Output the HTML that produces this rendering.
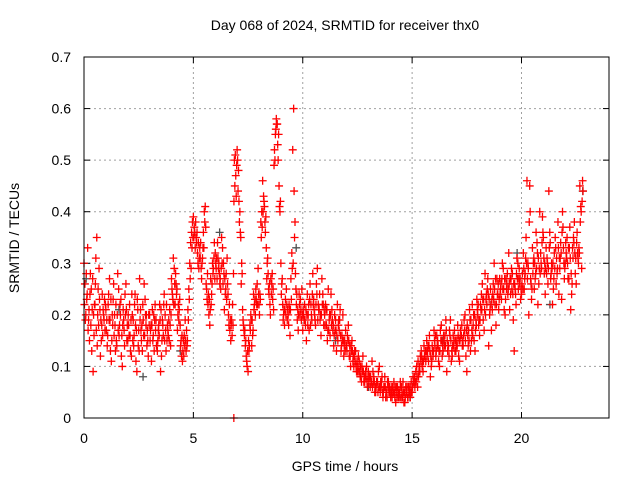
<!DOCTYPE html>
<html><head><meta charset="utf-8"><style>
body{margin:0;background:#fff}
svg{display:block;font-family:"Liberation Sans",sans-serif}
</style></head><body>
<svg id="chart" width="640" height="480">
<text x="345" y="30" text-anchor="middle" font-size="14">Day 068 of 2024, SRMTID for receiver thx0</text>
<g id="grid"></g>
<g id="ticks"></g>
<g id="pts"></g>
<rect x="84" y="57" width="525" height="361" fill="none" stroke="#000" stroke-width="1"/>
<text x="345" y="471" text-anchor="middle" font-size="14">GPS time / hours</text>
<text transform="translate(19,238) rotate(-90)" text-anchor="middle" font-size="14">SRMTID / TECUs</text>
</svg>
<script>
const xTicks=[0,5,10,15,20];
const yTicks=[0,0.1,0.2,0.3,0.4,0.5,0.6,0.7];
const yTickLabels=["0","0.1","0.2","0.3","0.4","0.5","0.6","0.7"];
const hours=[0,1,2,3,4,5,6,7,8,9,10,11,12,13,14,15,16,17,18,19,20,21,22];
const seriesA=[
[0.30,0.20,0.33,0.15,0.25,0.09,0.22,0.35,0.18,0.12,0.24,0.19],
[0.21,0.16,0.27,0.11,0.23,0.18,0.14,0.25,0.20,0.10,0.17,0.26],
[0.15,0.22,0.12,0.19,0.24,0.09,0.17,0.21,0.13,0.26,0.18,0.15],
[0.20,0.11,0.16,0.22,0.14,0.18,0.09,0.19,0.24,0.13,0.17,0.21],
[0.27,0.31,0.22,0.25,0.19,0.14,0.11,0.16,0.13,0.21,0.30,0.36],
[0.39,0.33,0.36,0.29,0.34,0.31,0.40,0.26,0.22,0.18,0.24,0.29],
[0.32,0.27,0.30,0.25,0.33,0.21,0.28,0.24,0.17,0.19,0.28,0.51],
[0.52,0.42,0.35,0.21,0.16,0.12,0.09,0.18,0.14,0.24,0.20,0.26],
[0.22,0.38,0.46,0.41,0.33,0.28,0.22,0.26,0.21,0.55,0.57,0.45],
[0.30,0.22,0.18,0.25,0.20,0.16,0.32,0.60,0.28,0.19,0.24,0.21],
[0.17,0.22,0.15,0.20,0.26,0.19,0.23,0.18,0.29,0.21,0.16,0.24],
[0.20,0.18,0.25,0.16,0.21,0.14,0.19,0.22,0.17,0.13,0.20,0.15],
[0.14,0.18,0.12,0.15,0.10,0.13,0.09,0.11,0.08,0.12,0.07,0.10],
[0.09,0.06,0.11,0.08,0.05,0.07,0.10,0.06,0.04,0.08,0.05,0.07],
[0.05,0.04,0.07,0.03,0.06,0.05,0.04,0.07,0.03,0.05,0.06,0.04],
[0.05,0.07,0.09,0.06,0.10,0.13,0.09,0.12,0.15,0.11,0.08,0.14],
[0.17,0.12,0.15,0.10,0.18,0.13,0.16,0.09,0.14,0.19,0.12,0.15],
[0.13,0.18,0.11,0.16,0.14,0.20,0.09,0.17,0.13,0.22,0.15,0.19],
[0.20,0.16,0.24,0.19,0.28,0.22,0.14,0.25,0.21,0.30,0.18,0.24],
[0.27,0.23,0.29,0.20,0.26,0.32,0.24,0.28,0.13,0.22,0.30,0.26],
[0.24,0.32,0.28,0.46,0.20,0.27,0.33,0.25,0.36,0.22,0.40,0.29],
[0.35,0.24,0.31,0.44,0.27,0.22,0.32,0.26,0.38,0.29,0.23,0.33],
[0.30,0.35,0.27,0.21,0.33,0.38,0.26,0.31,0.45,0.29]];
const seriesB=[
[0.26,0.23,0.19,0.28,0.21,0.16,0.31,0.20,0.23,0.15,0.21,0.17],
[0.19,0.24,0.13,0.20,0.16,0.22,0.28,0.18,0.12,0.21,0.24,0.15],
[0.18,0.13,0.20,0.16,0.11,0.21,0.27,0.15,0.19,0.23,0.14,0.20],
[0.17,0.21,0.13,0.19,0.15,0.22,0.12,0.16,0.20,0.15,0.19,0.14],
[0.24,0.29,0.26,0.20,0.23,0.12,0.15,0.19,0.14,0.25,0.34,0.38],
[0.37,0.35,0.30,0.33,0.27,0.36,0.41,0.23,0.20,0.27,0.30,0.34],
[0.29,0.31,0.26,0.35,0.30,0.24,0.31,0.18,0.15,0.22,0.50,0.43],
[0.44,0.40,0.30,0.18,0.14,0.10,0.13,0.20,0.16,0.22,0.23,0.29],
[0.24,0.40,0.43,0.36,0.30,0.24,0.27,0.23,0.52,0.58,0.50,0.40],
[0.26,0.20,0.23,0.19,0.22,0.27,0.52,0.35,0.22,0.17,0.20,0.25],
[0.20,0.18,0.24,0.17,0.22,0.28,0.20,0.26,0.22,0.19,0.27,0.18],
[0.22,0.15,0.19,0.24,0.17,0.20,0.13,0.18,0.21,0.16,0.12,0.17],
[0.16,0.12,0.14,0.11,0.13,0.09,0.12,0.08,0.10,0.07,0.09,0.06],
[0.08,0.07,0.09,0.05,0.07,0.09,0.05,0.08,0.06,0.04,0.07,0.06],
[0.06,0.05,0.04,0.06,0.04,0.07,0.05,0.03,0.06,0.04,0.05,0.07],
[0.08,0.06,0.10,0.08,0.12,0.10,0.14,0.11,0.13,0.16,0.10,0.12],
[0.14,0.16,0.11,0.17,0.12,0.15,0.19,0.13,0.17,0.11,0.16,0.13],
[0.15,0.12,0.17,0.14,0.19,0.12,0.16,0.21,0.15,0.18,0.13,0.23],
[0.18,0.22,0.26,0.17,0.23,0.27,0.20,0.17,0.26,0.22,0.27,0.21],
[0.25,0.30,0.21,0.27,0.24,0.21,0.29,0.19,0.25,0.31,0.27,0.23],
[0.28,0.25,0.35,0.30,0.45,0.23,0.30,0.27,0.34,0.26,0.32,0.39],
[0.28,0.33,0.26,0.36,0.30,0.25,0.35,0.28,0.24,0.34,0.40,0.27],
[0.32,0.27,0.37,0.24,0.35,0.28,0.36,0.33,0.41,0.46]];
const seriesC=[
[0.22,0.28,0.17,0.24,0.13,0.20,0.26,0.14,0.29,0.19,0.16,0.23],
[0.17,0.22,0.19,0.15,0.26,0.13,0.20,0.16,0.23,0.18,0.14,0.21],
[0.20,0.16,0.24,0.14,0.18,0.23,0.13,0.17,0.22,0.16,0.20,0.12],
[0.15,0.18,0.20,0.17,0.13,0.16,0.21,0.18,0.15,0.22,0.16,0.18],
[0.25,0.22,0.28,0.17,0.21,0.15,0.13,0.14,0.17,0.19,0.27,0.33],
[0.35,0.38,0.32,0.31,0.29,0.33,0.38,0.25,0.24,0.21,0.26,0.31],
[0.30,0.34,0.28,0.29,0.26,0.27,0.23,0.20,0.19,0.16,0.42,0.47],
[0.50,0.38,0.26,0.19,0.17,0.11,0.15,0.17,0.19,0.21,0.25,0.22],
[0.20,0.35,0.40,0.38,0.27,0.25,0.20,0.28,0.49,0.56,0.53,0.41],
[0.24,0.19,0.21,0.22,0.18,0.21,0.29,0.44,0.25,0.21,0.22,0.19],
[0.21,0.19,0.20,0.22,0.18,0.24,0.21,0.22,0.19,0.24,0.20,0.22],
[0.18,0.21,0.17,0.20,0.19,0.16,0.17,0.15,0.19,0.14,0.15,0.13],
[0.13,0.15,0.10,0.13,0.12,0.10,0.10,0.09,0.07,0.09,0.08,0.07],
[0.07,0.08,0.06,0.07,0.06,0.05,0.06,0.07,0.05,0.06,0.04,0.05],
[0.04,0.06,0.05,0.05,0.05,0.04,0.06,0.05,0.04,0.06,0.05,0.05],
[0.06,0.08,0.07,0.11,0.09,0.12,0.11,0.13,0.12,0.14,0.12,0.13],
[0.15,0.13,0.14,0.13,0.15,0.16,0.14,0.15,0.12,0.15,0.14,0.17],
[0.14,0.16,0.15,0.18,0.16,0.15,0.18,0.15,0.19,0.16,0.20,0.18],
[0.22,0.19,0.21,0.23,0.20,0.25,0.23,0.22,0.24,0.25,0.22,0.26],
[0.24,0.27,0.25,0.23,0.28,0.26,0.27,0.24,0.26,0.28,0.25,0.27],
[0.26,0.29,0.31,0.27,0.38,0.26,0.28,0.30,0.29,0.31,0.28,0.34],
[0.31,0.29,0.30,0.33,0.28,0.30,0.29,0.31,0.33,0.31,0.36,0.30],
[0.34,0.30,0.33,0.28,0.31,0.32,0.34,0.30,0.38,0.42]];
const seriesD=[
[0.19,0.24,0.21,0.18,0.27,0.22,0.17,0.25,0.21,0.18,0.20,0.22],
[0.14,0.19,0.23,0.18,0.20,0.15,0.17,0.22,0.16,0.19,0.20,0.18],
[0.16,0.19,0.15,0.22,0.17,0.14,0.19,0.18,0.16,0.20,0.17,0.18],
[0.18,0.15,0.19,0.14,0.17,0.19,0.15,0.22,0.17,0.18,0.15,0.20],
[0.23,0.26,0.24,0.22,0.18,0.16,0.12,0.15,0.15,0.23,0.29,0.35],
[0.36,0.34,0.34,0.31,0.30,0.33,0.37,0.28,0.23,0.22,0.28,0.27],
[0.31,0.29,0.27,0.30,0.28,0.25,0.26,0.22,0.18,0.18,0.45,0.49],
[0.48,0.36,0.28,0.17,0.15,0.13,0.14,0.19,0.17,0.23,0.22,0.24],
[0.23,0.37,0.42,0.39,0.31,0.26,0.24,0.25,0.50,0.57,0.55,0.42],
[0.27,0.21,0.20,0.21,0.21,0.23,0.30,0.38,0.24,0.20,0.23,0.20],
[0.19,0.21,0.18,0.23,0.20,0.22,0.19,0.24,0.21,0.20,0.22,0.21],
[0.21,0.17,0.20,0.18,0.18,0.17,0.16,0.19,0.16,0.15,0.14,0.14],
[0.15,0.14,0.13,0.12,0.11,0.11,0.09,0.10,0.09,0.08,0.08,0.08],
[0.08,0.07,0.07,0.06,0.07,0.06,0.07,0.05,0.06,0.05,0.06,0.05],
[0.05,0.05,0.06,0.04,0.05,0.06,0.04,0.05,0.05,0.04,0.06,0.05],
[0.07,0.07,0.08,0.09,0.11,0.11,0.12,0.13,0.14,0.13,0.11,0.13],
[0.16,0.14,0.13,0.15,0.14,0.14,0.17,0.14,0.16,0.13,0.14,0.15],
[0.14,0.15,0.16,0.15,0.17,0.17,0.14,0.19,0.17,0.20,0.17,0.21],
[0.19,0.21,0.23,0.21,0.24,0.24,0.21,0.23,0.23,0.27,0.24,0.23],
[0.26,0.25,0.27,0.25,0.25,0.27,0.25,0.26,0.24,0.27,0.29,0.25],
[0.25,0.27,0.30,0.29,0.40,0.25,0.31,0.28,0.32,0.29,0.30,0.36],
[0.30,0.28,0.29,0.34,0.29,0.27,0.33,0.29,0.31,0.32,0.37,0.29],
[0.31,0.33,0.31,0.26,0.34,0.31,0.32,0.32,0.40,0.44]];
const grayTimes=[0.1,1.6,2.7,4.4,6.2,9.7,11.5,13.0,14.9,16.4,18.6,19.8,21.3,22.8];
const grayValues=[0.27,0.21,0.08,0.13,0.36,0.33,0.15,0.06,0.04,0.15,0.22,0.32,0.22,0.44];
const outlierTimes=[6.85];
const outlierValues=[0.0];

const NS="http://www.w3.org/2000/svg";
const X0=84,X1=609,Y0=418,Y1=57,XMAX=24,YMAX=0.7;
const xs=t=>X0+(t/XMAX)*(X1-X0);
const ys=v=>Y0-(v/YMAX)*(Y0-Y1);
const grid=document.getElementById('grid'),ticks=document.getElementById('ticks'),pts=document.getElementById('pts');
function mk(tag,attrs,parent){const e=document.createElementNS(NS,tag);for(const k in attrs)e.setAttribute(k,attrs[k]);parent.appendChild(e);return e;}
xTicks.forEach(t=>{
  const x=xs(t);
  if(t>0){const g=mk('line',{x1:x,x2:x,y1:Y1,y2:Y0,stroke:'#a0a0a0','stroke-dasharray':'2,3'},grid);
  
  }
  const l=mk('text',{x:x,y:443,'text-anchor':'middle','font-size':14},ticks);l.textContent=String(t);
  
  
  mk('line',{x1:x,x2:x,y1:Y0,y2:Y0-6,stroke:'#000'},ticks);
  mk('line',{x1:x,x2:x,y1:Y1,y2:Y1+6,stroke:'#000'},ticks);
});
yTicks.forEach((v,i)=>{
  const y=ys(v);
  if(i>0&&i<yTicks.length-1){const g=mk('line',{x1:X0,x2:X1,y1:y,y2:y,stroke:'#a0a0a0','stroke-dasharray':'2,3'},grid);
  
  }
  const l=mk('text',{x:71,y:y+5,'text-anchor':'end','font-size':14},ticks);l.textContent=yTickLabels[i];
  
  
  mk('line',{x1:X0,x2:X0+6,y1:y,y2:y,stroke:'#000'},ticks);
  mk('line',{x1:X1,x2:X1-6,y1:y,y2:y,stroke:'#000'},ticks);
});
function cross(t,v,color,name){
  const x=xs(t),y=ys(v);
  const p=mk('path',{d:`M${x-4} ${y}h8M${x} ${y-4}v8`,stroke:color,'stroke-width':1.3,fill:'none'},pts);
  
  
}
grayTimes.forEach((t,i)=>cross(t,grayValues[i],'#505050','gray-point'));
hours.forEach((h,hi)=>{
  seriesA[hi].forEach((v,k)=>cross(h+k/12,v,'#ff0000','point-a'));
  seriesB[hi].forEach((v,k)=>cross(h+k/12+1/24,v,'#ff0000','point-b'));
  seriesC[hi].forEach((v,k)=>cross(h+k/12+1/48,v,'#ff0000','point-c'));
  seriesD[hi].forEach((v,k)=>cross(h+k/12+3/48,v,'#ff0000','point-d'));
});
outlierTimes.forEach((t,i)=>cross(t,outlierValues[i],'#ff0000','outlier-point'));
</script>
</body></html>
